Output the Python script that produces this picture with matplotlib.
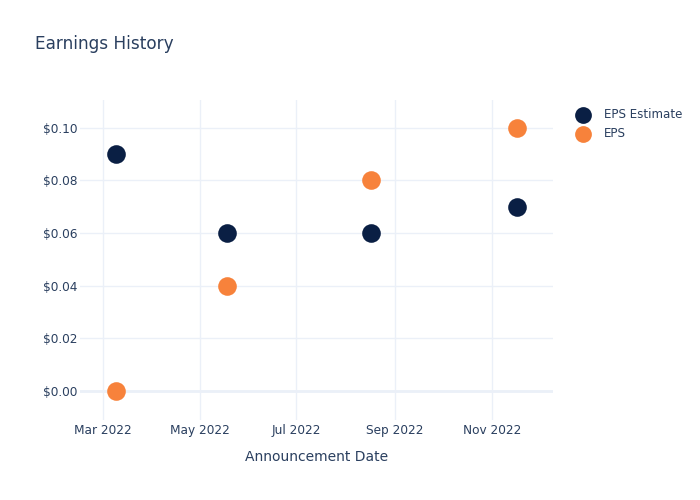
import numpy as np
import matplotlib.pyplot as plt
import matplotlib.dates as mdates
from matplotlib.ticker import FuncFormatter

# Данные
dates = np.array(["2022-03-09", "2022-05-18", "2022-08-17", "2022-11-17"], dtype="datetime64[D]")
eps_estimate = [0.09, 0.06, 0.06, 0.07]
eps_actual = [0.00, 0.04, 0.08, 0.10]
yticks = [0.0, 0.02, 0.04, 0.06, 0.08, 0.10]

txt = "#2a3f5f"
grid = "#ebf0f8"

fig = plt.figure(figsize=(7, 5), dpi=100)
ax = fig.add_axes([80/700, 80/500, (553-80)/700, 320/500])

ax.scatter(dates, eps_estimate, s=180, color="#0a1f44", label="EPS Estimate", zorder=3, linewidths=0)
ax.scatter(dates, eps_actual, s=180, color="#f7823b", label="EPS", zorder=3, linewidths=0)

ax.set_xlim(np.datetime64("2022-02-14T15"), np.datetime64("2022-12-09T15"))
ax.set_ylim(-0.0111, 0.1106)
ax.set_yticks(yticks)
ax.yaxis.set_major_formatter(FuncFormatter(lambda v, p: f"${v:.2f}"))
ax.xaxis.set_major_locator(mdates.MonthLocator(bymonth=[3, 5, 7, 9, 11]))
ax.xaxis.set_major_formatter(mdates.DateFormatter("%b %Y"))

ax.grid(True, color=grid, linewidth=1)
ax.axhline(0, color=grid, linewidth=2, zorder=1)
ax.set_axisbelow(True)
for sp in ax.spines.values():
    sp.set_visible(False)
ax.tick_params(length=0, colors=txt, labelsize=8.7)
ax.tick_params(axis="y", pad=2)
ax.tick_params(axis="x", pad=3)
ax.set_xlabel("Announcement Date", color=txt, fontsize=10, labelpad=9)

fig.text(35/700, 1 - 44/500, "Earnings History", color=txt, fontsize=12.2, va="center")

leg = ax.legend(loc="upper left", bbox_to_anchor=(1.029, 0.991), frameon=False,
                fontsize=8.6, labelcolor=txt, handletextpad=0.75, borderaxespad=0.0,
                labelspacing=0.55, markerscale=0.9)

fig.savefig("out.png", dpi=100)
